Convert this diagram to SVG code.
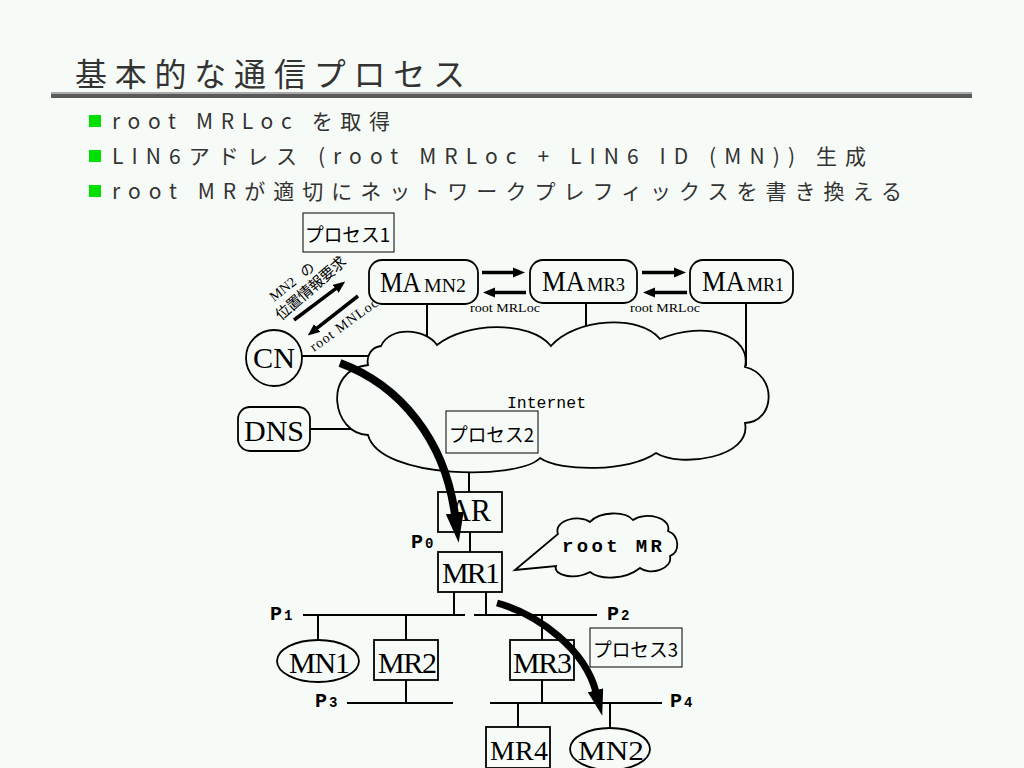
<svg xmlns="http://www.w3.org/2000/svg" width="1024" height="768" viewBox="0 0 1024 768">
<style>
.jp{font-family:'Noto Sans CJK JP',sans-serif;fill:#333}
.pj{font-family:'Noto Sans CJK JP',sans-serif;fill:#000;font-size:19px}
.mono{font-family:'Liberation Serif',serif;fill:#000}
.cour{font-family:'Liberation Mono',monospace;fill:#000}
.ser{font-family:'Liberation Serif','Noto Sans CJK JP',serif;fill:#000}
.ln{stroke:#000;stroke-width:2;fill:none}
.box{stroke:#000;stroke-width:1.8;fill:#f7fbf7}
.pbox{stroke:#000;stroke-width:1;fill:#f7fbf7}
.ar{stroke:#000;stroke-width:3.5;fill:none}
.big{stroke:#000;fill:none}
.p{font-family:'Liberation Mono',monospace;font-weight:bold;font-size:20px;fill:#000}
.ps{font-family:'Liberation Mono',monospace;font-size:14px;fill:#000}
</style>
<defs>
<marker id="ah" viewBox="0 0 12 10" markerWidth="3.43" markerHeight="2.86" refX="1" refY="5" orient="auto"><path d="M0,0 L12,5 L0,10 z" fill="#000"/></marker>
<marker id="bh" viewBox="0 0 30 18" markerWidth="3.75" markerHeight="2.25" refX="2" refY="9" orient="auto"><path d="M0,0 L30,9 L0,18 z" fill="#000"/></marker>
</defs>
<rect width="1024" height="768" fill="#f7fbf7"/>
<g id="title">
<text class="jp" x="75" y="86" font-size="32" textLength="390" lengthAdjust="spacing">基本的な通信プロセス</text>
<rect x="51" y="92" width="921" height="2" fill="#aaa"/>
<rect x="51" y="94" width="921" height="4" fill="#5a5a5a"/>
</g>
<g id="bullets">
<rect x="89" y="115" width="12" height="12" fill="#00e000"/>
<rect x="89" y="150" width="12" height="12" fill="#00e000"/>
<rect x="89" y="185" width="12" height="12" fill="#00e000"/>
<text class="jp" x="112" y="129" font-size="21" textLength="278" lengthAdjust="spacing">root MRLoc を取得</text>
<text class="jp" x="112" y="164" font-size="21" textLength="754" lengthAdjust="spacing">LIN6アドレス (root MRLoc + LIN6 ID (MN)) 生成</text>
<text class="jp" x="112" y="199" font-size="21" textLength="790" lengthAdjust="spacing">root MRが適切にネットワークプレフィックスを書き換える</text>
</g>
<g id="connectors">
<line class="ln" x1="427" y1="304" x2="427" y2="344"/>
<line class="ln" x1="586" y1="303" x2="586" y2="330"/>
<line class="ln" x1="746" y1="303" x2="746" y2="366"/>
<line class="ln" x1="302" y1="356" x2="375" y2="356"/>
<line class="ln" x1="310" y1="429" x2="352" y2="429"/>
<line class="ln" x1="469" y1="460" x2="469" y2="492"/>
<line class="ln" x1="470" y1="532" x2="470" y2="552"/>
<line class="ln" x1="454" y1="592" x2="454" y2="615"/>
<line class="ln" x1="486" y1="592" x2="486" y2="615"/>
<line class="ln" x1="303" y1="615" x2="465" y2="615"/>
<line class="ln" x1="474" y1="615" x2="597" y2="615"/>
<line class="ln" x1="318" y1="615" x2="318" y2="641"/>
<line class="ln" x1="406" y1="615" x2="406" y2="640"/>
<line class="ln" x1="542" y1="615" x2="542" y2="640"/>
<line class="ln" x1="406" y1="680" x2="406" y2="703"/>
<line class="ln" x1="542" y1="680" x2="542" y2="703"/>
<line class="ln" x1="347" y1="703" x2="453" y2="703"/>
<line class="ln" x1="490" y1="703" x2="662" y2="703"/>
<line class="ln" x1="518" y1="703" x2="518" y2="727"/>
<line class="ln" x1="610" y1="703" x2="610" y2="728"/>
<line class="ar" x1="482" y1="272.5" x2="514" y2="272.5" marker-end="url(#ah)"/>
<line class="ar" x1="526" y1="292.5" x2="494" y2="292.5" marker-end="url(#ah)"/>
<line class="ar" x1="642" y1="272.5" x2="675" y2="272.5" marker-end="url(#ah)"/>
<line class="ar" x1="687" y1="292.5" x2="654" y2="292.5" marker-end="url(#ah)"/>
<line class="ar" x1="294" y1="320" x2="336.4" y2="288.2" marker-end="url(#ah)"/>
<line class="ar" x1="358" y1="296" x2="316.4" y2="328.6" marker-end="url(#ah)"/>
<text class="ser" x="470" y="312" font-size="13" textLength="70" lengthAdjust="spacingAndGlyphs">root MRLoc</text>
<text class="ser" x="630" y="312" font-size="13" textLength="70" lengthAdjust="spacingAndGlyphs">root MRLoc</text>
<text class="ser" font-size="14" transform="translate(274,302) rotate(-38)">MN2 <tspan dx="6">の</tspan></text>
<text class="ser" font-size="15" transform="translate(281,321) rotate(-41)" textLength="88" lengthAdjust="spacing">位置情報要求</text>
<text class="ser" font-size="14" transform="translate(314,352) rotate(-36)" textLength="80" lengthAdjust="spacing">root MNLoc</text>
</g>
<g id="internet">
<path class="box" d="M381,346 C390,326 425,328 437,345 C465,322 530,320 551,346 C575,318 640,314 660,339 C705,320 752,335 745,367 C778,375 775,422 745,423 C752,458 680,468 656,453 C630,472 560,472 540,458 C520,480 380,480 368,435 C332,434 322,370 368,365 C366,355 372,347 381,346 Z"/>
<text class="cour" x="507" y="408" font-size="16" textLength="79" lengthAdjust="spacingAndGlyphs">Internet</text>
</g>
<g id="MA_MN2">
<rect class="box" x="369" y="260" width="109" height="44" rx="13"/>
<text class="ser" x="380" y="292" font-size="29" textLength="41" lengthAdjust="spacingAndGlyphs">MA</text>
<text class="ser" x="424" y="292" font-size="19" textLength="42" lengthAdjust="spacingAndGlyphs">MN2</text>
</g>
<g id="MA_MR3">
<rect class="box" x="530" y="260" width="107" height="43" rx="13"/>
<text class="ser" x="542" y="291" font-size="29" textLength="43" lengthAdjust="spacingAndGlyphs">MA</text>
<text class="ser" x="587" y="291" font-size="19" textLength="38" lengthAdjust="spacingAndGlyphs">MR3</text>
</g>
<g id="MA_MR1">
<rect class="box" x="690" y="260" width="103" height="43" rx="13"/>
<text class="ser" x="702" y="291" font-size="29" textLength="43" lengthAdjust="spacingAndGlyphs">MA</text>
<text class="ser" x="747" y="291" font-size="19" textLength="37" lengthAdjust="spacingAndGlyphs">MR1</text>
</g>
<g id="process1">
<rect class="pbox" x="303" y="213" width="91" height="39"/>
<text class="pj" x="305" y="242" textLength="85" lengthAdjust="spacingAndGlyphs">プロセス1</text>
</g>
<g id="CN">
<circle class="box" cx="274" cy="358" r="28"/>
<text class="mono" x="274" y="368" font-size="30" text-anchor="middle" textLength="42" lengthAdjust="spacingAndGlyphs">CN</text>
</g>
<g id="DNS">
<rect class="box" x="238" y="407" width="72" height="44" rx="12"/>
<text class="mono" x="244" y="441" font-size="30" textLength="60" lengthAdjust="spacingAndGlyphs">DNS</text>
</g>
<g id="process2">
<rect class="pbox" x="446" y="411" width="92" height="42"/>
<text class="pj" x="449" y="442" textLength="85" lengthAdjust="spacingAndGlyphs">プロセス2</text>
</g>
<g id="AR">
<rect class="box" x="438" y="492" width="64" height="40"/>
<text class="mono" x="449" y="521" font-size="31" textLength="42" lengthAdjust="spacingAndGlyphs">AR</text>
</g>
<g id="MR1">
<rect class="box" x="438" y="552" width="64" height="40"/>
<text class="mono" x="442" y="583" font-size="30" textLength="58" lengthAdjust="spacing">MR1</text>
</g>
<g id="rootMR">
<path class="box" d="M515,570 L558,534 C553,520 580,514 590,522 C600,511 625,511 633,520 C646,511 672,518 668,531 C680,536 680,552 670,556 C673,569 650,576 640,568 C625,580 600,580 590,572 C575,580 553,576 556,566 Z"/>
<text class="cour" x="562" y="552" font-size="19" font-weight="bold" textLength="100" lengthAdjust="spacing">root MR</text>
</g>
<g id="labels">
<text class="p" x="411" y="548">P<tspan class="ps" dx="2">0</tspan></text>
<text class="p" x="270" y="620">P<tspan class="ps" dx="2">1</tspan></text>
<text class="p" x="607" y="620">P<tspan class="ps" dx="2">2</tspan></text>
<text class="p" x="315" y="707">P<tspan class="ps" dx="2">3</tspan></text>
<text class="p" x="670" y="707">P<tspan class="ps" dx="2">4</tspan></text>
</g>
<g id="MN1">
<ellipse class="box" cx="318" cy="661" rx="41" ry="21"/>
<text class="mono" x="289" y="673" font-size="30" textLength="61" lengthAdjust="spacing">MN1</text>
</g>
<g id="MR2">
<rect class="box" x="374" y="640" width="64" height="40"/>
<text class="mono" x="378" y="673" font-size="30" textLength="59" lengthAdjust="spacing">MR2</text>
</g>
<g id="MR3">
<rect class="box" x="510" y="640" width="64" height="40"/>
<text class="mono" x="513" y="673" font-size="30" textLength="59" lengthAdjust="spacing">MR3</text>
</g>
<g id="process3">
<rect class="pbox" x="590" y="628" width="92" height="39"/>
<text class="pj" x="593" y="657" textLength="85" lengthAdjust="spacingAndGlyphs">プロセス3</text>
</g>
<g id="MR4">
<rect class="box" x="486" y="727" width="64" height="41"/>
<text class="mono" x="490" y="760" font-size="28" textLength="58" lengthAdjust="spacing">MR4</text>
</g>
<g id="MN2">
<ellipse class="box" cx="610" cy="749" rx="40" ry="21"/>
<text class="mono" x="578" y="760" font-size="28" textLength="66" lengthAdjust="spacingAndGlyphs">MN2</text>
</g>
<g id="flows">
<path class="big" stroke-width="8" d="M340,363 C400,385 445,440 455,515" marker-end="url(#bh)"/>
<path class="big" stroke-width="7" d="M497,603 C540,615 585,650 596,692" marker-end="url(#bh)"/>
</g>
</svg>
